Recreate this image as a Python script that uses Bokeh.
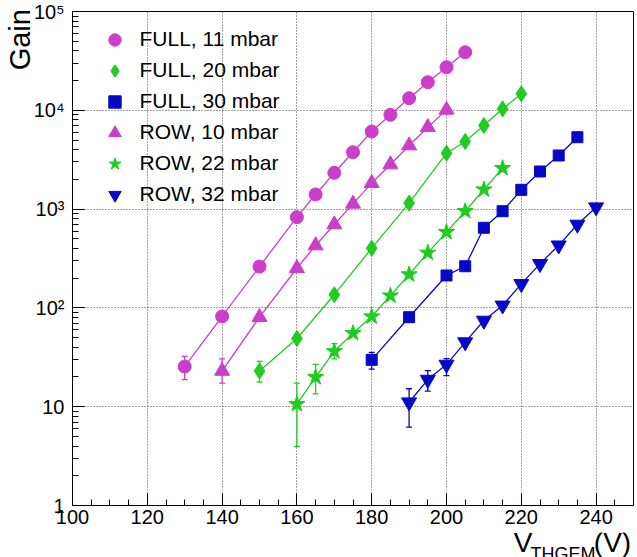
import math
from bokeh.plotting import figure
from bokeh.layouts import column
from bokeh.models import (Range1d, FixedTicker, Legend, LegendItem, Axis,
                          ColumnDataSource, Whisker, TeeHead)
from bokeh.core.properties import value
from bokeh.embed import file_html
from bokeh.resources import INLINE

# ---------------- data ----------------
full11_x = [130, 140, 150, 160, 165, 170, 175, 180, 185, 190, 195, 200, 205]
full11_y = [25.5, 82, 262, 828, 1406, 2330, 3765, 6100, 9000, 13250, 19260, 27300, 38700]

full20_x = [150, 160, 170, 180, 190, 200, 205, 210, 215, 220]
full20_y = [23, 49, 136, 402, 1150, 3680, 4830, 7020, 10350, 14700]

full30_x = [180, 190, 200, 205, 210, 215, 220, 225, 230, 235]
full30_y = [29.8, 80.5, 213, 264, 647, 952, 1567, 2403, 3490, 5340]

row10_x = [140, 150, 160, 165, 170, 175, 180, 185, 190, 195, 200]
row10_y = [23, 80.5, 252, 428, 698, 1130, 1830, 2826, 4400, 6740, 10100]

row22_x = [160, 165, 170, 175, 180, 185, 190, 195, 200, 205, 210, 215]
row22_y = [10.6, 19.9, 36.4, 55.5, 81.8, 133, 218, 361, 584, 952, 1578, 2595]

row32_x = [190, 195, 200, 205, 210, 215, 220, 225, 230, 235, 240]
row32_y = [11.1, 18.8, 26.7, 45, 74.5, 106, 175, 279, 430, 698, 1045]

# visible error bars (x, lower, upper)
full11_err_x = [130];            full11_err_lo = [18.8];             full11_err_hi = [32.3]
full20_err_x = [150];            full20_err_lo = [17.7];             full20_err_hi = [28.7]
full30_err_x = [180];            full30_err_lo = [24.0];             full30_err_hi = [35.5]
row10_err_x = [140];             row10_err_lo = [17.3];              row10_err_hi = [30.5]
row22_err_x = [160, 165, 170];   row22_err_lo = [3.95, 13.5, 30.5];  row22_err_hi = [17.3, 26.8, 43.5]
row32_err_x = [190, 195, 200];   row32_err_lo = [6.2, 14.4, 20.6];   row32_err_hi = [15.2, 23.2, 30.6]

labels = ["FULL, 11 mbar", "FULL, 20 mbar", "FULL, 30 mbar",
          "ROW, 10 mbar", "ROW, 22 mbar", "ROW, 32 mbar"]

x_major = [100, 120, 140, 160, 180, 200, 220, 240]
x_minor = list(range(100, 251, 5))
y_major = [1, 10, 100, 1000, 10000, 100000]
y_minor = [m * 10 ** k for k in range(0, 5) for m in range(2, 10)]
y_tick_labels = ["1", "10", "10\u00b2", "10\u00b3", "10\u2074", "10\u2075"]

y_title = "Gain"
x_title_parts = ["V", "THGEM", "(V)"]

# ---------------- styles ----------------
MAGENTA = "#cc3dcc"
GREEN = "#1fcc1f"
BLUE = "#0707c8"
FONT = "Liberation Sans"

W, H = 637, 557
BOTTOM_STRIP = 25    # height of the strip holding the x title

series = [
    (labels[0], full11_x, full11_y, full11_err_x, full11_err_lo, full11_err_hi, MAGENTA, "circle", 13),
    (labels[1], full20_x, full20_y, full20_err_x, full20_err_lo, full20_err_hi, GREEN, "diamond", 16),
    (labels[2], full30_x, full30_y, full30_err_x, full30_err_lo, full30_err_hi, BLUE, "square", 11),
    (labels[3], row10_x, row10_y, row10_err_x, row10_err_lo, row10_err_hi, MAGENTA, "triangle", 15),
    (labels[4], row22_x, row22_y, row22_err_x, row22_err_lo, row22_err_hi, GREEN, "star", 17),
    (labels[5], row32_x, row32_y, row32_err_x, row32_err_lo, row32_err_hi, BLUE, "inverted_triangle", 15),
]

main_h = H - BOTTOM_STRIP
p = figure(width=W, height=main_h, x_range=Range1d(100, 250), y_range=Range1d(1, 1e5),
           y_axis_type="log", output_backend="svg", toolbar_location=None,
           min_border_left=70, min_border_right=4, min_border_top=11,
           min_border_bottom=main_h - 505)
p.background_fill_color = "white"
p.border_fill_color = "white"
p.outline_line_color = "black"
p.outline_line_width = 1

xt = FixedTicker(ticks=x_major, minor_ticks=x_minor)
yt = FixedTicker(ticks=y_major, minor_ticks=y_minor)
p.xaxis.ticker = xt
p.yaxis.ticker = yt
p.xgrid.ticker = xt
p.ygrid.ticker = yt
p.yaxis.major_label_overrides = {v: s for v, s in zip(y_major, y_tick_labels)}

for ax in (p.xaxis, p.yaxis):
    ax.axis_line_color = "black"
    ax.axis_line_width = 1
    ax.major_tick_in = 12
    ax.major_tick_out = 0
    ax.minor_tick_in = 6
    ax.minor_tick_out = 0
    ax.major_tick_line_color = "black"
    ax.minor_tick_line_color = "black"
    ax.major_label_text_font = FONT
    ax.major_label_text_font_size = "20px"
    ax.major_label_text_color = "black"
p.xaxis.major_label_standoff = 4
p.yaxis.major_label_standoff = 8

# y title: ROOT style, ending at the top of the axis.  The axis label is centred on
# the axis end, so it is padded with no-break spaces (drawn above the page) to push
# the visible word down below the end.
p.yaxis.axis_label = y_title + "\u00a0" * 7
p.yaxis.axis_label_text_font = FONT
p.yaxis.axis_label_text_font_size = "29px"
p.yaxis.axis_label_text_font_style = "normal"
p.yaxis.axis_label_text_color = "black"
p.yaxis.axis_label_standoff = -5
if "axis_label_align" in Axis.properties():
    p.yaxis.axis_label_align = "end"

for g in (p.xgrid, p.ygrid):
    g.grid_line_color = "#444444"
    g.grid_line_dash = "1 2"
    g.grid_line_width = 1

items = []
for name, xs, ys, ex, elo, ehi, col, marker, size in series:
    src = ColumnDataSource(dict(x=xs, y=ys))
    p.line("x", "y", source=src, line_color=col, line_width=1.3)
    esrc = ColumnDataSource(dict(x=ex, lo=elo, hi=ehi))
    w = Whisker(base="x", lower="lo", upper="hi", source=esrc, dimension="height",
                line_color=col, line_width=1.3, level="underlay",
                upper_head=TeeHead(size=6, line_color=col, line_width=1.3),
                lower_head=TeeHead(size=6, line_color=col, line_width=1.3))
    p.add_layout(w)
    r = p.scatter("x", "y", source=src, marker=marker, size=size,
                  fill_color=col, line_color=col)
    items.append(LegendItem(label=name, renderers=[r]))

legend = Legend(items=items, location=(26.5, 295.5), padding=0, spacing=0,
                glyph_width=31, glyph_height=31, label_height=31,
                label_standoff=10, label_text_font=FONT,
                label_text_font_size="21px", label_text_color="black",
                border_line_alpha=0, background_fill_alpha=0)
p.add_layout(legend)

# x title strip with subscript (aligned to the right end of the axis), pixel units
xs_fig = figure(width=W, height=BOTTOM_STRIP, title=None,
                x_range=Range1d(0, W), y_range=Range1d(0, BOTTOM_STRIP),
                output_backend="svg", toolbar_location=None,
                x_axis_location=None, y_axis_location=None,
                min_border_left=0, min_border_right=0, min_border_top=0, min_border_bottom=0)
xs_fig.grid.visible = False
xs_fig.outline_line_color = None
xs_fig.background_fill_color = "white"
xs_fig.border_fill_color = "white"
# (text, left x, vertical middle y in page pixels, size)
for txt, xx, mid, fs in [(x_title_parts[0], 501, 542.3, "28px"),
                         (x_title_parts[1], 520, 553.8, "18px"),
                         (x_title_parts[2], 592, 542.3, "28px")]:
    xs_fig.text(x=[xx], y=[H - mid], text=[txt],
                text_align="left", text_baseline="middle",
                text_font=value(FONT), text_font_size=fs, text_color="black")

layout = column(p, xs_fig, spacing=0)
open("out.html", "w").write(file_html(layout, INLINE))
